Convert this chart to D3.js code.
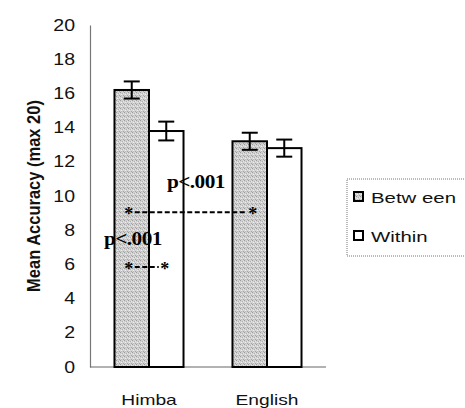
<!DOCTYPE html>
<html>
<head>
<meta charset="utf-8">
<script src="https://cdn.jsdelivr.net/npm/d3@7"></script>
<style>
  html, body { margin: 0; padding: 0; background: #fff; }
  svg { display: block; }
</style>
</head>
<body>
<svg id="chart" width="465" height="408"></svg>
<script>
// Mean accuracy by group and condition
const categories = ["Himba", "English"];
const seriesNames = ["Betw een", "Within"];
const betweenValues = [16.2, 13.2];
const withinValues = [13.8, 12.8];
const betweenErrors = [0.5, 0.5];
const withinErrors = [0.55, 0.5];
const yTicks = [0, 2, 4, 6, 8, 10, 12, 14, 16, 18, 20];
const yTitle = "Mean Accuracy (max 20)";
const sigLabel = "p<.001";

const svg = d3.select("#chart");
const plot = { left: 90, right: 326, top: 25, bottom: 367 };

const y = d3.scaleLinear().domain([0, 20]).range([plot.bottom, plot.top]);
const x0 = d3.scaleBand().domain(categories).range([plot.left, plot.right])
  .paddingInner(0.415).paddingOuter(0.2075);
const x1 = d3.scaleBand().domain(seriesNames).range([0, x0.bandwidth()]);

// stippled grey fill for the "between" bars
const defs = svg.append("defs");
const pat = defs.append("pattern").attr("id", "stipple")
  .attr("width", 4).attr("height", 4).attr("patternUnits", "userSpaceOnUse");
pat.append("rect").attr("width", 4).attr("height", 4).attr("fill", "#d2d2d2");
[[0,0,"#9a9a9a"],[2,1,"#b0b0b0"],[1,2,"#f0f0f0"],[3,3,"#a4a4a4"],[3,1,"#e6e6e6"],[1,3,"#bcbcbc"]]
  .forEach(([px, py, c]) => pat.append("rect").attr("x", px).attr("y", py)
    .attr("width", 1).attr("height", 1).attr("fill", c));

const fills = { "Betw een": "url(#stipple)", "Within": "#ffffff" };

// y axis
const yAxis = svg.append("g").attr("transform", `translate(${plot.left},0)`)
  .call(d3.axisLeft(y).tickValues(yTicks).tickSize(0).tickPadding(15));
yAxis.select(".domain").attr("stroke", "#777").attr("stroke-width", 1.2);
yAxis.selectAll("text")
  .attr("font-family", "'Liberation Sans', Arial, sans-serif")
  .attr("font-size", 16).attr("fill", "#111")
  .attr("x", -15 / 1.22)
  .attr("transform", "scale(1.22,1)");

// baseline
svg.append("line")
  .attr("x1", plot.left).attr("x2", plot.right)
  .attr("y1", y(0)).attr("y2", y(0))
  .attr("stroke", "#666").attr("stroke-width", 1.2);

// bars
const rows = categories.map((c, i) => [
  { cat: c, key: "Betw een", value: betweenValues[i], err: betweenErrors[i] },
  { cat: c, key: "Within", value: withinValues[i], err: withinErrors[i] }
]).flat();

const barG = svg.append("g");
barG.selectAll("rect").data(rows).join("rect")
  .attr("x", d => x0(d.cat) + x1(d.key))
  .attr("width", x1.bandwidth())
  .attr("y", d => y(d.value))
  .attr("height", d => y(0) - y(d.value))
  .attr("fill", d => fills[d.key])
  .attr("stroke", "#000").attr("stroke-width", 2);

// error bars
const errG = svg.append("g").attr("stroke", "#000").attr("stroke-width", 2);
rows.forEach(d => {
  const cx = x0(d.cat) + x1(d.key) + x1.bandwidth() / 2;
  const hi = y(d.value + d.err), lo = y(d.value - d.err);
  errG.append("line").attr("x1", cx).attr("x2", cx).attr("y1", hi).attr("y2", lo);
  errG.append("line").attr("x1", cx - 8).attr("x2", cx + 8).attr("y1", hi).attr("y2", hi);
  errG.append("line").attr("x1", cx - 8).attr("x2", cx + 8).attr("y1", lo).attr("y2", lo);
});

// category labels
svg.append("g").selectAll("text").data(categories).join("text")
  .attr("transform", d => `translate(${x0(d) + x0.bandwidth() / 2},405) scale(1.28,1)`)
  .attr("text-anchor", "middle")
  .attr("font-family", "'Liberation Sans', Arial, sans-serif")
  .attr("font-size", 15).attr("fill", "#111")
  .text(d => d);

// y axis title
svg.append("text")
  .attr("transform", `translate(40,${(plot.top + plot.bottom) / 2}) scale(1.1,1) rotate(-90)`)
  .attr("text-anchor", "middle")
  .attr("font-family", "'Liberation Sans', Arial, sans-serif")
  .attr("font-weight", "bold").attr("font-size", 16.5).attr("fill", "#111")
  .text(yTitle);

// significance markers
function sigBracket(xa, xb, yv, labelX, labelY) {
  const yy = y(yv);
  svg.append("line").attr("x1", xa + 6).attr("x2", xb - 6)
    .attr("y1", yy).attr("y2", yy)
    .attr("stroke", "#000").attr("stroke-width", 2).attr("stroke-dasharray", "5,2.5");
  [xa, xb].forEach(px => svg.append("text")
    .attr("x", px).attr("y", yy + 8).attr("text-anchor", "middle")
    .attr("font-family", "'Liberation Serif', 'Times New Roman', serif")
    .attr("font-weight", "bold").attr("font-size", 18).attr("fill", "#000")
    .text("*"));
  svg.append("text")
    .attr("transform", `translate(${labelX},${labelY}) scale(1.12,1)`)
    .attr("font-family", "'Liberation Serif', 'Times New Roman', serif")
    .attr("font-weight", "bold").attr("font-size", 19).attr("fill", "#000")
    .attr("letter-spacing", -0.5)
    .text(sigLabel);
}
const hB = x0("Himba") + x1("Betw een") + x1.bandwidth() / 2;
const eB = x0("English") + x1("Betw een") + x1.bandwidth() / 2;
sigBracket(hB - 3, eB + 3, 9.05, 167, 188);
sigBracket(hB - 3, hB + 33, 5.85, 104, 245);

// legend
const lg = svg.append("g");
lg.append("rect").attr("x", 347).attr("y", 179).attr("width", 130).attr("height", 77)
  .attr("fill", "none").attr("stroke", "#777").attr("stroke-width", 1)
  .attr("stroke-dasharray", "1,1");
seriesNames.forEach((s, i) => {
  const ly = 197 + i * 39;
  lg.append("rect").attr("x", 354).attr("y", ly - 5).attr("width", 9).attr("height", 9)
    .attr("fill", fills[s]).attr("stroke", "#000").attr("stroke-width", 2);
  lg.append("text")
    .attr("transform", `translate(371,${ly + 6}) scale(1.36,1)`)
    .attr("font-family", "'Liberation Sans', Arial, sans-serif")
    .attr("font-size", 15).attr("fill", "#111")
    .text(s);
});
</script>
</body>
</html>
